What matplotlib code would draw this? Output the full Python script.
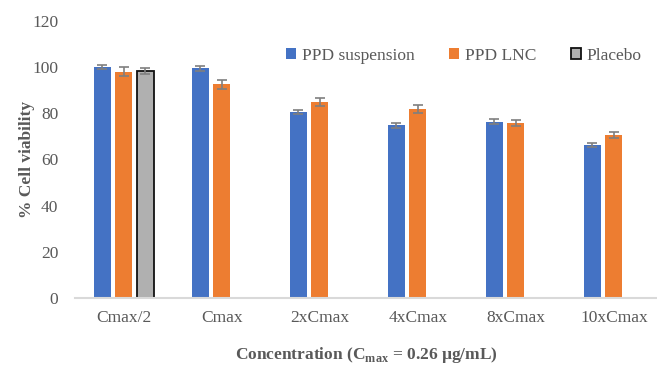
import matplotlib.pyplot as plt
import numpy as np

plt.rcParams['font.family'] = ['Liberation Serif', 'DejaVu Serif']
plt.rcParams['mathtext.fontset'] = 'custom'
plt.rcParams['mathtext.rm'] = 'Liberation Serif'
plt.rcParams['mathtext.bf'] = 'Liberation Serif:bold'

categories = ['Cmax/2', 'Cmax', '2xCmax', '4xCmax', '8xCmax', '10xCmax']
suspension = [100.0, 99.5, 80.6, 74.8, 76.4, 66.3]
suspension_err = [1.0, 1.0, 1.0, 1.0, 1.0, 1.0]
lnc = [98.0, 92.6, 84.9, 81.8, 75.8, 70.4]
lnc_err = [2.0, 2.0, 1.8, 1.6, 1.4, 1.3]
placebo = [98.3]
placebo_err = [1.3]

grey = '#595959'
x = np.arange(len(categories))
w = 0.175
step = 0.22

fig = plt.figure(figsize=(6.57, 3.65), dpi=100)
ax = fig.add_axes([0.114, 0.1836, 0.886, 0.7589])

err_kw = dict(ecolor='#7f7f7f', elinewidth=1.2, capsize=3.5, capthick=1.2)
ax.bar(x - step, suspension, w, yerr=suspension_err, color='#4472c4',
       label='PPD suspension', error_kw=err_kw, zorder=2)
ax.bar(x, lnc, w, yerr=lnc_err, color='#ed7d31',
       label='PPD LNC', error_kw=err_kw, zorder=2)
ax.bar(x[:1] + step, placebo, w, yerr=placebo_err, color='#b0b0b0',
       edgecolor='#111111', linewidth=1.3, label='Placebo', error_kw=err_kw, zorder=2)

ax.set_xlim(-0.5, 5.44)
ax.set_ylim(0, 120)
ax.set_yticks(range(0, 121, 20))
ax.set_xticks(x)
ax.set_xticklabels(categories)
ax.tick_params(axis='both', length=0, labelsize=12.5, colors=grey)
ax.tick_params(axis='y', pad=12)
ax.tick_params(axis='x', pad=9)

for s in ['top', 'right', 'left']:
    ax.spines[s].set_visible(False)
ax.spines['bottom'].set_color('#d9d9d9')
ax.spines['bottom'].set_linewidth(1.5)

ax.set_ylabel('% Cell viability', fontsize=12.5, fontweight='bold', color=grey, labelpad=-2)
ax.set_xlabel(r'Concentration (C$_{\mathbf{max}}$ = 0.26 µg/mL)', fontsize=12.5,
              fontweight='bold', color=grey, labelpad=13)

leg = ax.legend(loc='upper right', bbox_to_anchor=(1.0, 0.96), ncol=3, frameon=False,
                fontsize=12.5, handlelength=0.6, handleheight=0.6, columnspacing=2.0,
                handletextpad=0.3)
for t in leg.get_texts():
    t.set_color(grey)

fig.savefig('out.png', dpi=100)
